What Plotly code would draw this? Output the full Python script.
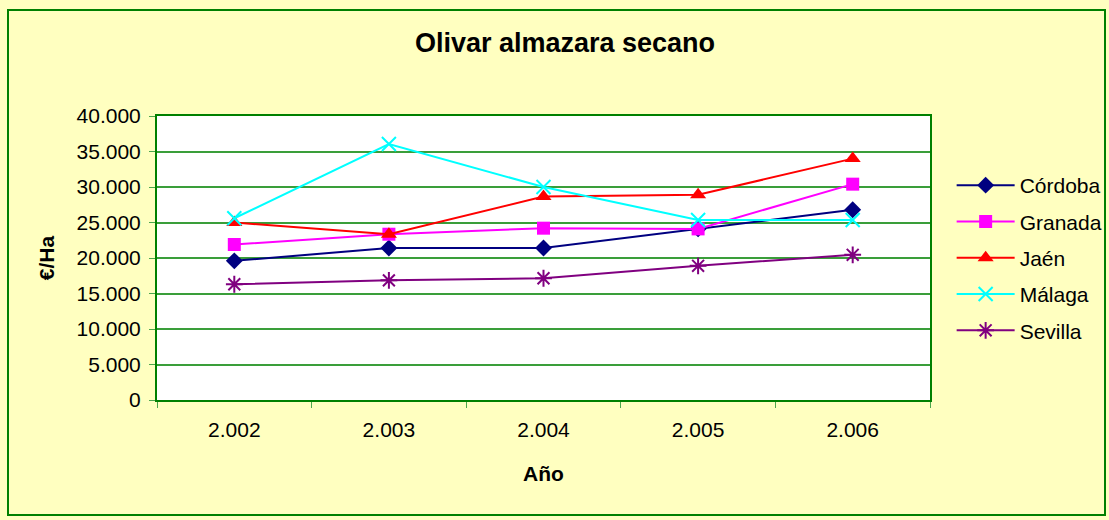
import plotly.graph_objects as go

years = ["2.002", "2.003", "2.004", "2.005", "2.006"]
cordoba = [19600, 21400, 21400, 24100, 26800]
granada = [21900, 23350, 24200, 24100, 30400]
jaen = [25000, 23350, 28650, 28900, 34000]
malaga = [25600, 36050, 30000, 25350, 25350]
sevilla = [16300, 16850, 17150, 18900, 20450]

series = [
    ("Córdoba", cordoba, "#000080", "diamond", 13, 0),
    ("Granada", granada, "#FF00FF", "square", 13, 0),
    ("Jaén", jaen, "#FF0000", "triangle-up", 14, 0),
    ("Málaga", malaga, "#00FFFF", "x-thin-open", 14, 2),
    ("Sevilla", sevilla, "#800080", "asterisk-open", 14, 2),
]

fig = go.Figure()
for name, vals, col, sym, sz, lw in series:
    fig.add_trace(go.Scatter(
        x=years, y=vals, name=name, mode="lines+markers",
        legendgroup=name,
        line=dict(color=col, width=2),
        marker=dict(symbol=sym, size=sz, color=col,
                    line=dict(color=col, width=lw)),
    ))

green = "#008000"
fig.update_layout(
    width=1109, height=520,
    margin=dict(l=157, r=179, t=116, b=120, autoexpand=False),
    paper_bgcolor="#FFFFC0",
    plot_bgcolor="#FFFFFF",
    separators=",.",
    font=dict(family="Liberation Sans, Arial, sans-serif", size=21, color="#000000"),
    title=dict(text="<b>Olivar almazara secano</b>", x=565 / 1109, xanchor="center",
               y=1 - 43 / 520, yanchor="middle", yref="container",
               font=dict(size=27)),
    legend=dict(x=1.028, xanchor="left", y=0.5, yanchor="middle",
                bgcolor="rgba(0,0,0,0)", tracegroupgap=6, itemwidth=58,
                font=dict(size=21)),
    showlegend=True,
)
fig.update_xaxes(
    type="category", range=[-0.5, 4.5], tickson="boundaries", ticks="outside",
    ticklen=6, tickcolor="#4CA64C", showgrid=False, showline=True,
    linecolor=green, linewidth=2, mirror=True, ticklabelstandoff=10,
    title=dict(text="<b>Año</b>", standoff=26, font=dict(size=21)),
)
fig.update_yaxes(
    range=[0, 40000], dtick=5000, tickformat=",d", ticks="outside",
    ticklen=6, tickcolor="#4CA64C", showgrid=True, gridcolor="#3A9E3A",
    gridwidth=1.5, showline=True, linecolor=green, linewidth=2, mirror=True,
    zeroline=False, ticklabelstandoff=4,
    title=dict(text="<b>€/Ha</b>", standoff=16, font=dict(size=21)),
)
fig.add_shape(type="rect", xref="paper", yref="paper",
              x0=(8 - 157) / 773, x1=(1105 - 157) / 773,
              y0=(400 - 515) / 284, y1=(400 - 10) / 284,
              line=dict(color=green, width=2), fillcolor="rgba(0,0,0,0)",
              layer="below")
fig.write_html("out.html", config={"displayModeBar": False},
               post_script="document.body.style.margin='0px';")
